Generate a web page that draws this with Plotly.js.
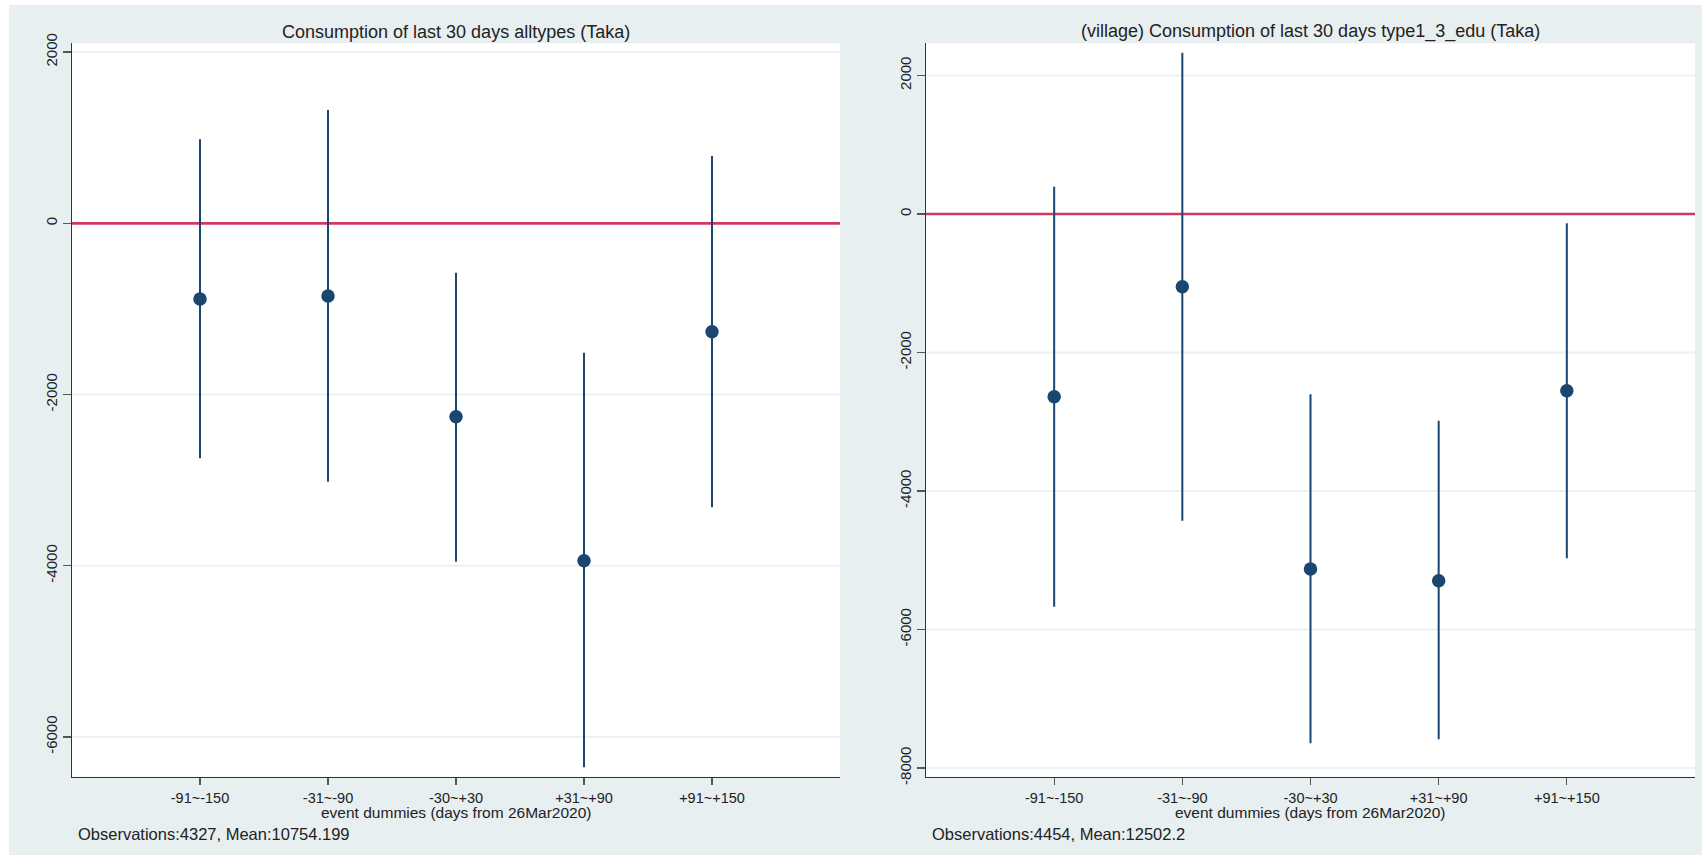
<!DOCTYPE html>
<html>
<head>
<meta charset="utf-8">
<script src="https://cdn.plot.ly/plotly-3.0.1.min.js"></script>
<style>
  html, body { margin: 0; padding: 0; background: #ffffff; }
  #chart { position: absolute; left: 9px; top: 5px; width: 1693px; height: 850px; }
</style>
</head>
<body>
<div id="chart"></div>
<script>
// ---- data ----
const categories = ["-91~-150", "-31~-90", "-30~+30", "+31~+90", "+91~+150"];

const leftTitle = "Consumption of last 30 days alltypes (Taka)";
const leftCoef = [-884, -849, -2259, -3941, -1266];
const leftLo   = [-2745, -3019, -3953, -6355, -3318];
const leftHi   = [981, 1324, -577, -1512, 786];
const leftNote = "Observations:4327, Mean:10754.199";
const leftTicks = [-6000, -4000, -2000, 0, 2000];

const rightTitle = "(village) Consumption of last 30 days type1_3_edu (Taka)";
const rightCoef = [-2638, -1050, -5126, -5295, -2552];
const rightLo   = [-5671, -4429, -7643, -7586, -4972];
const rightHi   = [394, 2329, -2604, -2985, -134];
const rightNote = "Observations:4454, Mean:12502.2";
const rightTicks = [-8000, -6000, -4000, -2000, 0, 2000];

const xTitle = "event dummies (days from 26Mar2020)";
const refValue = 0;

// ---- style ----
const W = 1693, H = 850;
const navy = "#1a476f";
const red = "#d03a5f";
const bg = "#e8eff1";
const grid = "#eaf2f3";
const font = "Liberation Sans, Arial, sans-serif";
const txt = "#222222";

function px(x) { return x / W; }
function py(y) { return 1 - y / H; }

function ciTrace(coef, lo, hi, xa, ya) {
  return {
    type: "scatter", mode: "markers",
    x: categories, y: coef, xaxis: xa, yaxis: ya,
    marker: { color: navy, size: 13.5, line: { width: 0 } },
    error_y: {
      type: "data", symmetric: false,
      array: hi.map((h, i) => h - coef[i]),
      arrayminus: coef.map((c, i) => c - lo[i]),
      color: navy, thickness: 2, width: 0
    },
    showlegend: false, hoverinfo: "skip"
  };
}

const traces = [
  ciTrace(leftCoef, leftLo, leftHi, "x", "y"),
  ciTrace(rightCoef, rightLo, rightHi, "x2", "y2")
];

const yDom = [py(771.7), py(38.3)];
const xDomL = [px(63), px(831)];
const xDomR = [px(917), px(1686)];

function xAxis(dom, anchor) {
  return {
    domain: dom, anchor: anchor, type: "category",
    categoryorder: "array", categoryarray: categories,
    range: [-1, 5],
    showgrid: false, zeroline: false,
    showline: true, linecolor: "#333333", linewidth: 1.5,
    ticks: "outside", ticklen: 7, tickwidth: 1.3, tickcolor: "#555555",
    tickfont: { family: font, size: 14.5, color: txt },
    fixedrange: true
  };
}
function yAxis(range, tv, anchor) {
  return {
    domain: yDom, anchor: anchor, range: range,
    tickvals: tv, ticktext: tv.map(String), tickangle: -90,
    showgrid: false, zeroline: false,
    showline: true, linecolor: "#333333", linewidth: 1.5,
    ticks: "outside", ticklen: 8, tickwidth: 1.3, tickcolor: "#555555",
    tickfont: { family: font, size: 15, color: txt },
    fixedrange: true
  };
}

// gridlines (drawn as shapes so the reference line can sit above them)
function gridShapes(tv, xa, ya) {
  return tv.map(v => ({
    type: "line", xref: xa + " domain", yref: ya, x0: 0, x1: 1, y0: v, y1: v,
    line: { color: grid, width: 2 }, layer: "below"
  }));
}

const shapes = []
  .concat(gridShapes(leftTicks, "x", "y"))
  .concat(gridShapes(rightTicks, "x2", "y2"))
  .concat([
    { type: "line", xref: "x domain", yref: "y", x0: 0, x1: 1, y0: refValue, y1: refValue,
      line: { color: red, width: 2.7 }, layer: "below" },
    { type: "line", xref: "x2 domain", yref: "y2", x0: 0, x1: 1, y0: refValue, y1: refValue,
      line: { color: red, width: 2.7 }, layer: "below" }
  ]);

const layout = {
  width: W, height: H,
  margin: { l: 0, r: 0, t: 0, b: 0, pad: 0 },
  paper_bgcolor: bg, plot_bgcolor: "#ffffff",
  showlegend: false,
  xaxis: xAxis(xDomL, "y"),
  yaxis: yAxis([-6465, 2103], leftTicks, "x"),
  xaxis2: xAxis(xDomR, "y2"),
  yaxis2: yAxis([-8126, 2465], rightTicks, "x2"),
  shapes: shapes,
  annotations: [
    { text: leftTitle, xref: "paper", yref: "paper", x: px(447), y: py(27),
      xanchor: "center", yanchor: "middle", showarrow: false,
      font: { family: font, size: 18, color: txt } },
    { text: rightTitle, xref: "paper", yref: "paper", x: px(1301), y: py(27),
      xanchor: "center", yanchor: "middle", showarrow: false,
      font: { family: font, size: 18, color: txt } },
    { text: xTitle, xref: "paper", yref: "paper", x: px(447), y: py(807.5),
      xanchor: "center", yanchor: "middle", showarrow: false,
      font: { family: font, size: 15.5, color: txt } },
    { text: xTitle, xref: "paper", yref: "paper", x: px(1301), y: py(807.5),
      xanchor: "center", yanchor: "middle", showarrow: false,
      font: { family: font, size: 15.5, color: txt } },
    { text: leftNote, xref: "paper", yref: "paper", x: px(67), y: py(829),
      xanchor: "left", yanchor: "middle", showarrow: false,
      font: { family: font, size: 16.5, color: txt } },
    { text: rightNote, xref: "paper", yref: "paper", x: px(921), y: py(829),
      xanchor: "left", yanchor: "middle", showarrow: false,
      font: { family: font, size: 16.5, color: txt } }
  ]
};

Plotly.newPlot("chart", traces, layout, { displayModeBar: false, staticPlot: true });
</script>
</body>
</html>
